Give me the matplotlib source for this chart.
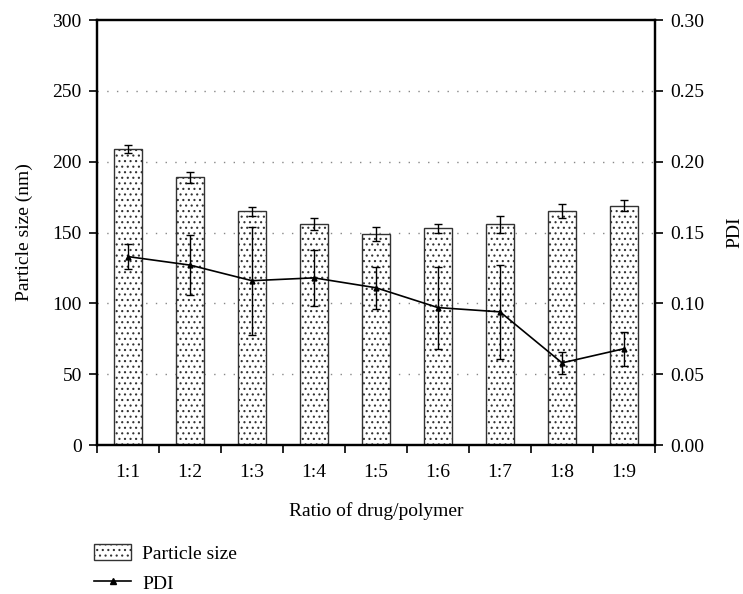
import matplotlib
matplotlib.use("Agg")
import matplotlib.pyplot as plt
from matplotlib.lines import Line2D
import numpy as np

plt.rcParams['font.family'] = ['Liberation Serif', 'DejaVu Serif']
plt.rcParams['hatch.color'] = '#666666'
plt.rcParams['hatch.linewidth'] = 0.8

# data
ratios = ['1:1', '1:2', '1:3', '1:4', '1:5', '1:6', '1:7', '1:8', '1:9']
size = [209, 189, 165, 156, 149, 153, 156, 165, 169]
size_err = [3, 4, 3, 4, 5, 3, 6, 5, 4]
pdi = [0.133, 0.127, 0.116, 0.118, 0.111, 0.097, 0.094, 0.058, 0.068]
pdi_err = [0.009, 0.021, 0.038, 0.020, 0.015, 0.029, 0.033, 0.008, 0.012]

fig = plt.figure(figsize=(7.43, 5.94), dpi=100)
ax = fig.add_axes([0.1306, 0.2508, 0.7510, 0.7155])
x = np.arange(len(ratios))

ax.bar(x, size, width=0.45, color='white', edgecolor='#333333',
       linewidth=1.0, hatch='...', label='Particle size', zorder=2)
ax.errorbar(x, size, yerr=size_err, fmt='none', ecolor='black',
            elinewidth=1.0, capsize=3, capthick=1.0, zorder=3)

ax.set_xlim(-0.5, len(ratios) - 0.5)
ax.set_ylim(0, 300)
ax.set_yticks(np.arange(0, 301, 50))
ax.set_xticks(np.arange(-0.5, len(ratios), 1.0))
ax.set_xticklabels([])
ax.set_xticks(x, minor=True)
ax.set_xticklabels(ratios, minor=True)
ax.tick_params(axis='x', which='minor', length=0, pad=14, labelsize=14)
ax.tick_params(axis='x', which='major', length=6, width=1.2, direction='out')
ax.tick_params(axis='y', length=6, width=1.2, labelsize=14, pad=5)
for g in range(50, 300, 50):
    ax.axhline(g, color='#888888', linestyle=(0, (1, 6)), linewidth=1.0, zorder=0)
for s in ax.spines.values():
    s.set_linewidth(1.6)
ax.set_ylabel('Particle size (nm)', fontsize=14, labelpad=14)
ax.set_xlabel('Ratio of drug/polymer', fontsize=14, labelpad=15)

ax2 = ax.twinx()
ax2.errorbar(x, pdi, yerr=pdi_err, color='black', linewidth=1.2,
             marker='^', markersize=3.5, elinewidth=1.0, capsize=3,
             capthick=1.0, zorder=4)
ax2.set_ylim(0, 0.30)
ax2.set_yticks(np.arange(0, 0.301, 0.05))
ax2.set_yticklabels(['%.2f' % v for v in np.arange(0, 0.301, 0.05)])
ax2.tick_params(axis='y', length=6, width=1.2, labelsize=14, pad=5)
for s in ax2.spines.values():
    s.set_linewidth(1.6)
ax2.set_ylabel('PDI', fontsize=14, labelpad=16)

h1, l1 = ax.get_legend_handles_labels()
pdi_handle = Line2D([], [], color='black', linewidth=1.2, marker='^', markersize=4)
fig.legend(h1 + [pdi_handle], l1 + ['PDI'], loc='upper left',
           bbox_to_anchor=(0.114, 0.10), frameon=False, fontsize=14,
           handlelength=1.9, handleheight=0.9, labelspacing=0.55,
           handletextpad=0.57, borderpad=0)

fig.savefig('out.png', dpi=100)
